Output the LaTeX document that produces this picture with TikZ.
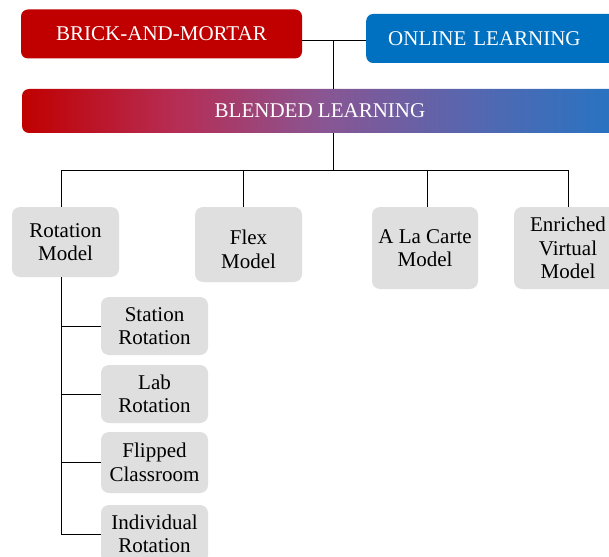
\documentclass[tikz,border=0pt]{standalone}
\usepackage{fontspec}
\setmainfont{Liberation Serif}
\newfontfamily\tnrfont{Liberation Serif}
\definecolor{brick}{HTML}{C00000}
\definecolor{online}{HTML}{0070C0}
\definecolor{blendA}{HTML}{B62D55}
\definecolor{blendB}{HTML}{8A5592}
\definecolor{blendC}{HTML}{5567B0}
\definecolor{blendD}{HTML}{2A73C1}
\definecolor{boxgray}{HTML}{DFDFDF}
\pgfdeclarehorizontalshading{blendshade}{100bp}{color(0bp)=(brick); color(25bp)=(brick); color(38bp)=(blendA); color(50bp)=(blendB); color(63bp)=(blendC); color(74bp)=(blendD); color(100bp)=(blendD)}
\begin{document}
\begin{tikzpicture}[x=1pt,y=-1pt,
  txt/.style={font=\tnrfont\fontsize{21}{23.5}\selectfont, align=center},
  topbox/.style={txt, text=white, rounded corners=7pt, inner sep=0pt},
  gbox/.style={txt, fill=boxgray, rounded corners=8pt, inner sep=0pt, text=black},
  link/.style={line width=0.9pt, black}]
\clip (0,0) rectangle (609,556);
\fill[white] (0,0) rectangle (609,556);

\node[topbox, fill=brick, minimum width=281, minimum height=49] (brick) at (161.5,34) {BRICK-AND-MORTAR};
\node[topbox, fill=online, anchor=west, text width=248, align=left, inner xsep=22, minimum height=49] (online) at (366,38.5) {ONLINE LEARNING};
\node[topbox, minimum width=596, minimum height=44, shading=blendshade, shading angle=0] (blend) at (320,111) {BLENDED LEARNING};

\node[gbox, minimum width=107, minimum height=70] (rot) at (65.5,242) {Rotation\\Model};
\node[gbox, minimum width=107, minimum height=75, label={[txt, text=black, yshift=-5pt]center:Flex\\Model}] (flex) at (248.5,244.5) {};
\node[gbox, minimum width=106, minimum height=82] (alc) at (425,248) {A La Carte\\Model};
\node[gbox, minimum width=108, minimum height=82] (evm) at (568,248) {Enriched\\Virtual\\Model};

\node[gbox, minimum width=107, minimum height=58] (sr) at (154.5,326) {Station\\Rotation};
\node[gbox, minimum width=107, minimum height=58] (lr) at (154.5,394) {Lab\\Rotation};
\node[gbox, minimum width=107, minimum height=61] (fc) at (154.5,462.5) {Flipped\\Classroom};
\node[gbox, minimum width=107, minimum height=58] (ir) at (154.5,534) {Individual\\Rotation};

\coordinate (j1) at (333,40);
\coordinate (j2) at (333,170);
\coordinate (tr) at (61,170);
\coordinate (dflex) at (243,170);
\coordinate (dalc) at (427,170);

\draw[link] (brick.east |- j1) -- (online.west |- j1);
\draw[link] (j1) -- (j1 |- blend.north);
\draw[link] (j1 |- blend.south) -- (j2);
\draw[link] (tr |- rot.north) -- (tr) -- (evm.north |- j2) -- (evm.north);
\draw[link] (dflex) -- (dflex |- flex.north);
\draw[link] (dalc) -- (dalc |- alc.north);

\draw[link] (tr |- rot.south) -- (tr |- ir.west) -- (ir.west);
\draw[link] (tr |- sr.west) -- (sr.west);
\draw[link] (tr |- lr.west) -- (lr.west);
\draw[link] (tr |- fc.west) -- (fc.west);
\end{tikzpicture}
\end{document}
